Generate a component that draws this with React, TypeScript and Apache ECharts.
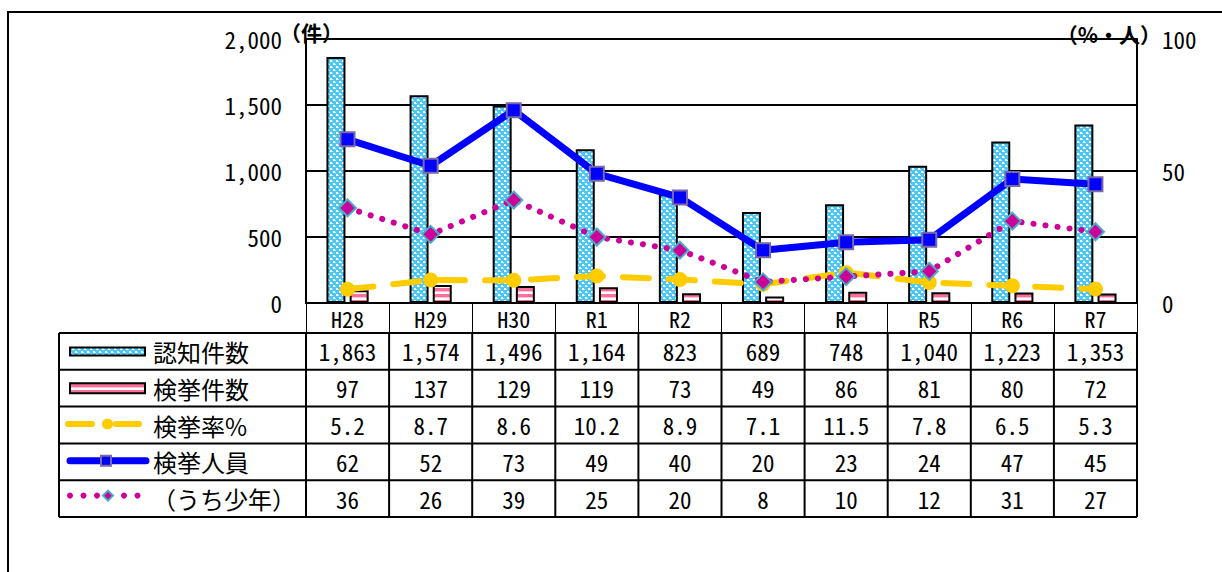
import React, { useEffect, useRef } from "react";
import * as echarts from "echarts";

const categories = ["H28", "H29", "H30", "R1", "R2", "R3", "R4", "R5", "R6", "R7"];
const recognized = [1863, 1574, 1496, 1164, 823, 689, 748, 1040, 1223, 1353];
const cleared = [97, 137, 129, 119, 73, 49, 86, 81, 80, 72];
const clearanceRate = [5.2, 8.7, 8.6, 10.2, 8.9, 7.1, 11.5, 7.8, 6.5, 5.3];
const arrested = [62, 52, 73, 49, 40, 20, 23, 24, 47, 45];
const juveniles = [36, 26, 39, 25, 20, 8, 10, 12, 31, 27];
const seriesNames = ["認知件数", "検挙件数", "検挙率%", "検挙人員", "（うち少年）"];
const leftUnit = "（件）";
const rightUnit = "（%・人）";

const FONT_MONO = "'Noto Sans Mono CJK JP', 'Noto Sans CJK JP', sans-serif";
const FONT_JP = "'Noto Sans CJK JP', sans-serif";

const GRID_LEFT = 306;
const GRID_TOP = 39;
const GRID_W = 831;
const GRID_H = 264;
const TABLE_LEFT = 59;
const HEADER_H = 30;
const ROW_H = 36.8;

const fmtInt = (v: number) => v.toLocaleString("en-US");
const fmtRate = (v: number) => v.toFixed(1);

function makeCanvas(w: number, h: number, draw: (c: CanvasRenderingContext2D) => void) {
  const c = document.createElement("canvas");
  c.width = w;
  c.height = h;
  const ctx = c.getContext("2d")!;
  draw(ctx);
  return c;
}

export default function App() {
  const ref = useRef<HTMLDivElement>(null);
  useEffect(() => {
    if (!ref.current) return;
    const chart = echarts.init(ref.current, undefined, { renderer: "svg" });

    const blueCanvas = makeCanvas(6, 6, (ctx) => {
      ctx.fillStyle = "#4cc6f4";
      ctx.fillRect(0, 0, 6, 6);
      ctx.fillStyle = "#ffffff";
      ctx.fillRect(0, 0, 2, 2);
      ctx.fillRect(3, 3, 2, 2);
      ctx.fillStyle = "#bfeafb";
      ctx.fillRect(2, 1, 1, 1);
      ctx.fillRect(5, 4, 1, 1);
    });
    const pinkCanvas = makeCanvas(4, 6, (ctx) => {
      ctx.fillStyle = "#ffffff";
      ctx.fillRect(0, 0, 4, 6);
      ctx.fillStyle = "#ff6f9c";
      ctx.fillRect(0, 0, 4, 3);
      ctx.fillStyle = "#ffc0d4";
      ctx.fillRect(0, 3, 4, 1);
    });
    const bluePattern: any = { image: blueCanvas, repeat: "repeat", imageWidth: 6, imageHeight: 6 };
    const pinkPattern: any = { image: pinkCanvas, repeat: "repeat", imageWidth: 4, imageHeight: 6 };

    const n = categories.length;
    const colW = GRID_W / n;
    const tableTop = GRID_TOP + GRID_H + HEADER_H;
    const rows = 5;
    const tableBottom = tableTop + rows * ROW_H;
    const right = GRID_LEFT + GRID_W;

    const txt = (x: number, y: number, text: string, size: number, family: string, align: string, weight = "normal") => ({
      type: "text",
      x,
      y,
      style: { text, fill: "#000", fontSize: size, fontFamily: family, fontWeight: weight, align, verticalAlign: "middle", textAlign: align, textVerticalAlign: "middle" },
      silent: true,
    });

    const g: any[] = [];
    g.push({ type: "rect", shape: { x: 8, y: 12, width: 1240, height: 600 }, style: { fill: "none", stroke: "#000", lineWidth: 2 }, silent: true });
    for (let r = 0; r <= rows; r++) {
      const y = tableTop + r * ROW_H;
      g.push({ type: "line", shape: { x1: TABLE_LEFT, y1: y, x2: right, y2: y }, style: { stroke: "#000", lineWidth: 2 }, silent: true });
    }
    const vx = [TABLE_LEFT];
    for (let k = 0; k <= n; k++) vx.push(GRID_LEFT + k * colW);
    vx.forEach((x) => {
      g.push({ type: "line", shape: { x1: x, y1: tableTop, x2: x, y2: tableBottom }, style: { stroke: "#000", lineWidth: 2 }, silent: true });
    });
    const rowVals: string[][] = [
      recognized.map(fmtInt),
      cleared.map(fmtInt),
      clearanceRate.map(fmtRate),
      arrested.map(fmtInt),
      juveniles.map(fmtInt),
    ];
    rowVals.forEach((vals, r) => {
      const cy = tableTop + (r + 0.5) * ROW_H;
      vals.forEach((t, i) => {
        g.push(txt(GRID_LEFT + (i + 0.5) * colW, cy, t, 23, FONT_MONO, "center"));
      });
      g.push(txt(r === 4 ? 152 : 153, cy, seriesNames[r], 24, FONT_JP, "left"));
    });
    const ry = (r: number) => tableTop + (r + 0.5) * ROW_H;
    g.push({ type: "rect", shape: { x: 70, y: ry(0) - 4, width: 75, height: 8 }, style: { fill: bluePattern, stroke: "#000", lineWidth: 2 }, silent: true });
    g.push({ type: "rect", shape: { x: 70, y: ry(1) - 5, width: 75, height: 10 }, style: { fill: pinkPattern, stroke: "#000", lineWidth: 2 }, silent: true });
    const y3 = ry(2) - 1;
    g.push({ type: "line", shape: { x1: 68, y1: y3, x2: 92, y2: y3 }, style: { stroke: "#ffcc00", lineWidth: 6, lineCap: "round" }, silent: true });
    g.push({ type: "line", shape: { x1: 116, y1: y3, x2: 139, y2: y3 }, style: { stroke: "#ffcc00", lineWidth: 6, lineCap: "round" }, silent: true });
    g.push({ type: "circle", shape: { cx: 107.5, cy: y3, r: 5.5 }, style: { fill: "#ffcc00" }, silent: true });
    const y4 = ry(3) - 1;
    g.push({ type: "line", shape: { x1: 70, y1: y4, x2: 146, y2: y4 }, style: { stroke: "#0000ff", lineWidth: 7, lineCap: "round" }, silent: true });
    g.push({ type: "rect", shape: { x: 101, y: y4 - 5, width: 10, height: 10 }, style: { fill: "#0000ff", stroke: "#7a68a8", lineWidth: 2 }, silent: true });
    const y5 = ry(4) - 3;
    [70, 83.5, 97, 124, 137.5].forEach((x) => {
      g.push({ type: "circle", shape: { cx: x, cy: y5, r: 3 }, style: { fill: "#cc0099" }, silent: true });
    });
    g.push({ type: "polygon", shape: { points: [[108, y5 - 5], [113, y5], [108, y5 + 5], [103, y5]] }, style: { fill: "#cc0099", stroke: "#4bacc6", lineWidth: 2 }, silent: true });
    g.push(txt(280, 32, leftUnit, 21, FONT_JP, "left", "bold"));
    g.push(txt(1161, 34, rightUnit, 21, FONT_JP, "right", "bold"));

    chart.setOption({
      animation: false,
      backgroundColor: "#ffffff",
      grid: { left: GRID_LEFT, top: GRID_TOP, width: GRID_W, height: GRID_H, containLabel: false },
      xAxis: {
        type: "category",
        data: categories,
        boundaryGap: true,
        axisLine: { show: true, lineStyle: { color: "#000", width: 2 } },
        axisTick: { show: true, length: HEADER_H, alignWithLabel: false, lineStyle: { color: "#000", width: 1 } },
        axisLabel: { color: "#000", fontSize: 22, fontFamily: FONT_MONO, margin: 4, interval: 0 },
        splitLine: { show: false },
      },
      yAxis: [
        {
          type: "value",
          min: 0,
          max: 2000,
          interval: 500,
          axisLine: { show: true, lineStyle: { color: "#000", width: 2 } },
          axisTick: { show: false },
          axisLabel: { color: "#000", fontSize: 23, fontFamily: FONT_MONO, margin: 24, formatter: (v: number) => fmtInt(v) },
          splitLine: { show: true, lineStyle: { color: "#000", width: 2 } },
        },
        {
          type: "value",
          min: 0,
          max: 100,
          interval: 50,
          position: "right",
          axisLine: { show: true, lineStyle: { color: "#000", width: 2 } },
          axisTick: { show: false },
          axisLabel: { color: "#000", fontSize: 23, fontFamily: FONT_MONO, margin: 25 },
          splitLine: { show: false },
        },
      ],
      series: [
        {
          name: seriesNames[0],
          type: "bar",
          yAxisIndex: 0,
          data: recognized,
          barWidth: 19,
          barGap: "22%",
          itemStyle: { color: bluePattern, borderColor: "#000", borderWidth: 2 },
        },
        {
          name: seriesNames[1],
          type: "bar",
          yAxisIndex: 0,
          data: cleared,
          barWidth: 19,
          itemStyle: { color: pinkPattern, borderColor: "#000", borderWidth: 2 },
        },
        {
          name: seriesNames[2],
          type: "line",
          yAxisIndex: 1,
          data: clearanceRate,
          symbol: "circle",
          symbolSize: 15,
          itemStyle: { color: "#ffcc00" },
          lineStyle: { color: "#ffcc00", width: 6, type: [26, 20], cap: "round" },
          z: 3,
        },
        {
          name: seriesNames[3],
          type: "line",
          yAxisIndex: 1,
          data: arrested,
          symbol: "rect",
          symbolSize: 14,
          itemStyle: { color: "#0000ff", borderColor: "#7a68a8", borderWidth: 2 },
          lineStyle: { color: "#0000ff", width: 7 },
          z: 4,
        },
        {
          name: seriesNames[4],
          type: "line",
          yAxisIndex: 1,
          data: juveniles,
          symbol: "diamond",
          symbolSize: 17,
          itemStyle: { color: "#cc0099", borderColor: "#4bacc6", borderWidth: 2 },
          lineStyle: { color: "#cc0099", width: 6, type: [0.1, 12], cap: "round" },
          z: 5,
        },
      ],
      graphic: { elements: g },
    });
    return () => chart.dispose();
  }, []);
  return <div ref={ref} style={{ position: "fixed", left: 0, top: 0, width: 1222, height: 572, background: "#fff" }} />;
}
